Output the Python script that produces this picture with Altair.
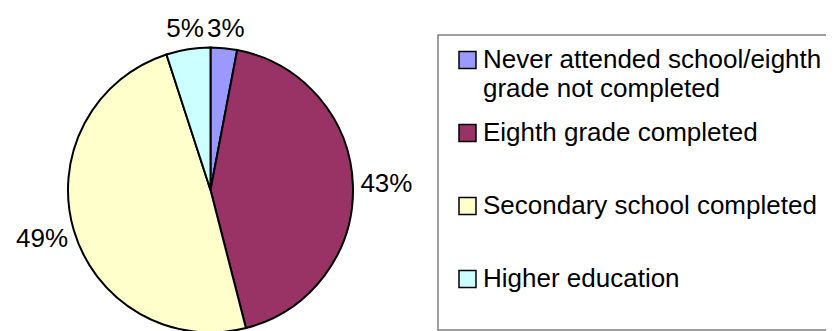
import altair as alt
import pandas as pd

categories = [
    "Never attended school/eighth grade not completed",
    "Eighth grade completed",
    "Secondary school completed",
    "Higher education",
]
values = [3, 43, 49, 5]
pct_labels = ["3%", "43%", "49%", "5%"]
legend_line1 = [
    "Never attended school/eighth",
    "Eighth grade completed",
    "Secondary school completed",
    "Higher education",
]
legend_line2 = ["grade not completed", "", "", ""]
colors = ["#9999FF", "#993366", "#FFFFCC", "#CCFFFF"]

df = pd.DataFrame({
    "category": categories,
    "value": values,
    "label": pct_labels,
    "line1": legend_line1,
    "line2": legend_line2,
    "order": list(range(len(categories))),
})

CX, CY, R = 202.5, 182, 142.5
FONT = "Liberation Sans"
FS = 26
color_scale = alt.Scale(domain=categories, range=colors)

base = alt.Chart(df)

pie = base.mark_arc(outerRadius=R, stroke="black", strokeWidth=2).encode(
    theta=alt.Theta("value:Q", stack=True),
    order=alt.Order("order:Q"),
    color=alt.Color("category:N", scale=color_scale, legend=None),
    x=alt.value(CX),
    y=alt.value(CY),
)

labels = base.transform_joinaggregate(
    total="sum(value)"
).transform_window(
    cum="sum(value)", sort=[alt.SortField("order")], frame=[None, 0]
).transform_calculate(
    mid="(datum.cum - datum.value/2) / datum.total * 2 * PI",
    r="160 + 16 * abs(sin(datum.mid))",
).transform_calculate(
    px=f"{CX} + datum.r * sin(datum.mid)",
    py=f"{CY} - datum.r * cos(datum.mid)",
).mark_text(font=FONT, fontSize=FS, align="center", baseline="middle", color="black").encode(
    x=alt.X("px:Q", scale=None, axis=None),
    y=alt.Y("py:Q", scale=None, axis=None),
    text="label:N",
)

box = base.transform_filter("datum.order == 0").mark_rect(
    fill="white", stroke="#808080", strokeWidth=1.5
).encode(x=alt.value(430), x2=alt.value(830), y=alt.value(27), y2=alt.value(322))

yleg = alt.Y("category:N", scale=alt.Scale(domain=categories, range=[52, 271], padding=0), axis=None)

squares = base.mark_square(size=289, stroke="black", strokeWidth=1.5, opacity=1).encode(
    x=alt.value(459.5),
    y=yleg,
    color=alt.Color("category:N", scale=color_scale, legend=None),
)

text1 = base.mark_text(font=FONT, fontSize=FS, align="left", baseline="middle", color="black").encode(
    x=alt.value(475), y=yleg, text="line1:N"
)
text2 = base.mark_text(font=FONT, fontSize=FS, align="left", baseline="middle", color="black", dy=29).encode(
    x=alt.value(475), y=yleg, text="line2:N"
)

chart = alt.layer(box, pie, labels, squares, text1, text2).resolve_scale(
    y="independent"
).properties(
    width=818, height=323, autosize=alt.AutoSizeParams(type="none"), padding=0
).configure_view(stroke=None)

chart.save("out.html", embed_options={"renderer": "svg", "actions": False})
